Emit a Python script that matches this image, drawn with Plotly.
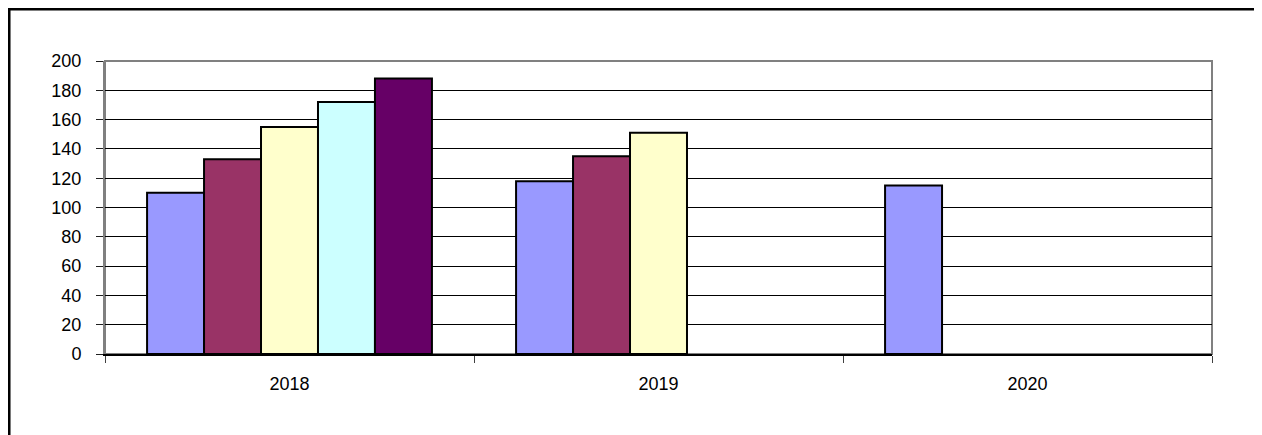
import plotly.graph_objects as go

years = ["2018", "2019", "2020"]
serie1 = [110, 118, 115]
serie2 = [133, 135, None]
serie3 = [155, 151, None]
serie4 = [172, None, None]
serie5 = [188, None, None]

colors = ["#9999FF", "#993366", "#FFFFCC", "#CCFFFF", "#660066"]

fig = go.Figure()
for vals, col in zip([serie1, serie2, serie3, serie4, serie5], colors):
    fig.add_trace(go.Bar(
        x=years,
        y=vals,
        marker=dict(color=col, line=dict(color="black", width=2)),
        hoverinfo="skip"
    ))

# plot area border (grey) and outer chart frame (black)
fig.add_shape(type="rect", xref="paper", yref="paper", x0=0, x1=1, y0=0, y1=1,
              line=dict(color="#808080", width=2), layer="below")
fig.add_shape(type="rect", xref="paper", yref="paper",
              x0=-0.0867, x1=1.2, y0=-1.0, y1=1.1775,
              line=dict(color="black", width=3), layer="above")

fig.update_layout(
    width=1262, height=435,
    margin=dict(l=97, r=58, t=53, b=89),
    paper_bgcolor="white", plot_bgcolor="white",
    barmode="group", bargap=0.228, bargroupgap=0,
    showlegend=False,
    font=dict(family="Liberation Sans, Arial, sans-serif", size=18, color="black"),
    xaxis=dict(
        type="category", tickson="boundaries",
        ticks="outside", ticklen=7, tickcolor="#404040",
        showline=True, linecolor="black", linewidth=2,
        showgrid=False, ticklabelstandoff=12
    ),
    yaxis=dict(
        range=[0, 200], dtick=20, tickmode="linear",
        ticks="outside", ticklen=7, tickcolor="#202020",
        showline=True, linecolor="#808080", linewidth=2,
        showgrid=True, gridcolor="black", gridwidth=1,
        zeroline=False, ticklabelstandoff=11
    ),
)

fig.write_html("out.html")
